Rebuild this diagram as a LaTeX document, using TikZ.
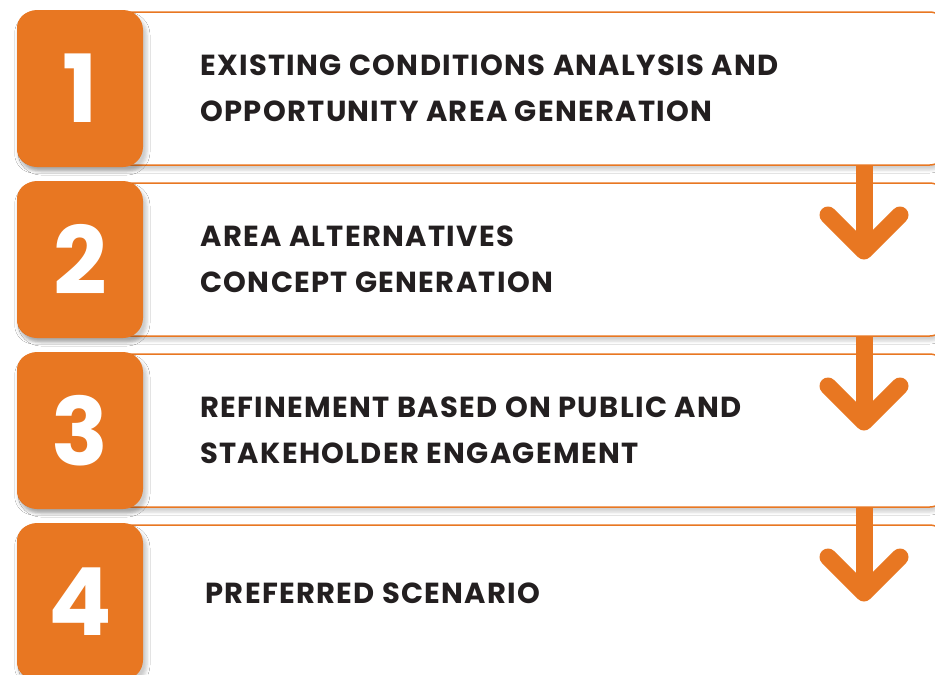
\documentclass[tikz,border=0pt]{standalone}
\usepackage{fontspec}
\setmainfont{Poppins}
\usetikzlibrary{positioning,shadows.blur}
\definecolor{stepOrange}{HTML}{E87722}
\definecolor{stepText}{HTML}{231F20}
\begin{document}
\begin{tikzpicture}[x=1pt,y=-1pt]
    \tikzstyle{numsquare}=[rectangle,rounded corners=20pt,fill=stepOrange,minimum width=126pt,minimum height=157pt,inner sep=0pt,text=white,font=\fontsize{94}{94}\selectfont\bfseries,
        blur shadow={shadow xshift=4pt,shadow yshift=-5pt,shadow blur radius=3pt,shadow opacity=20}]
    \tikzstyle{stepbox}=[rectangle,rounded corners=16pt,draw=stepOrange,line width=1.5pt,fill=white,minimum width=928pt,minimum height=153pt,anchor=west,
        blur shadow={shadow xshift=0pt,shadow yshift=-5pt,shadow blur radius=3pt,shadow opacity=18}]
    \tikzstyle{steptext}=[anchor=west,align=left,text=stepText,inner sep=0pt,font=\fontsize{29}{46}\selectfont\bfseries\addfontfeature{LetterSpace=4.5}]
    \tikzstyle{shaft}=[draw=stepOrange,line width=17pt]
    \tikzstyle{head}=[draw=stepOrange,line width=17pt,line cap=round,line join=round]

    \clip (0,0) rectangle (935,675);
    \fill[white] (0,0) rectangle (935,675);

    % white boxes
    \node[stepbox] (b1) at (17,88.5)  {};
    \node[stepbox] (b2) at (17,259.5) {};
    \node[stepbox] (b3) at (17,430.5) {};
    \node[stepbox] (b4) at (17,601.5) {};

    % arrows
    \coordinate (ax) at (864,0);
    \coordinate (t1) at (864,251);
    \coordinate (t2) at (864,422);
    \coordinate (t3) at (864,593);
    \draw[shaft] (b1.south -| ax) -- (t1);
    \draw[head] (t1) ++(-36,-36) -- (t1) -- ++(36,-36);
    \draw[shaft] (b2.south -| ax) -- (t2);
    \draw[head] (t2) ++(-36,-36) -- (t2) -- ++(36,-36);
    \draw[shaft] (b3.south -| ax) -- (t3);
    \draw[head] (t3) ++(-36,-36) -- (t3) -- ++(36,-36);

    % numbers
    \node[numsquare] (n1) at (80,88.5)  {1};
    \node[numsquare] (n2) at (80,259.5) {2};
    \node[numsquare] (n3) at (80,430.5) {3};
    \node[numsquare] (n4) at (80,601.5) {4};

    \node[steptext,right=57pt of n1] (l1) {EXISTING CONDITIONS ANALYSIS AND\\OPPORTUNITY AREA GENERATION};
    \node[steptext,right=57pt of n2] (l2) {AREA ALTERNATIVES\\CONCEPT GENERATION};
    \node[steptext,right=57pt of n3] (l3) {REFINEMENT BASED ON PUBLIC AND\\STAKEHOLDER ENGAGEMENT};
    \node[steptext,right=62pt of n4,yshift=8pt] (l4) {PREFERRED SCENARIO};

\end{tikzpicture}
\end{document}
